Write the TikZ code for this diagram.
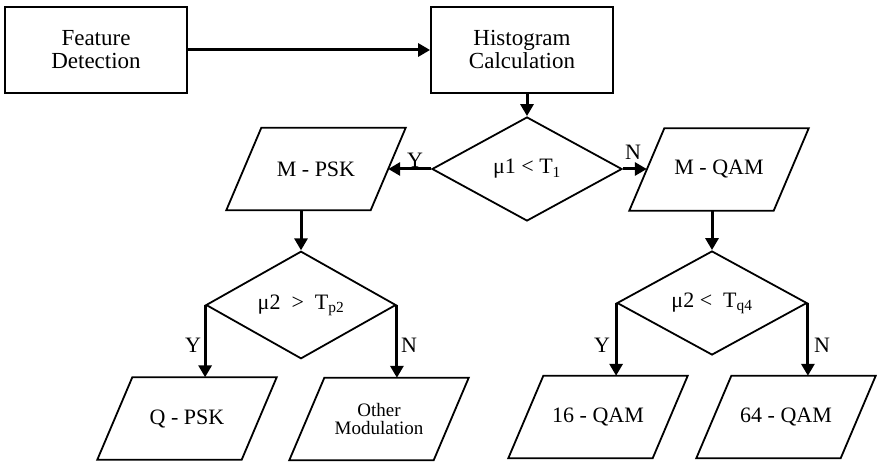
\documentclass[tikz,border=0pt]{standalone}
\usepackage{fontspec}
\setmainfont{Liberation Serif}
\usetikzlibrary{shapes.geometric,arrows.meta}
\begin{document}
\begin{tikzpicture}[x=1pt,y=-1pt,
  box/.style={draw, line width=1.8pt, minimum width=182pt, minimum height=86pt, inner sep=0pt, align=center, font=\fontsize{23}{23}\selectfont},
  dia/.style={draw, diamond, line width=1.8pt, minimum width=190pt, minimum height=104pt, inner sep=0pt, font=\fontsize{22}{24}\selectfont},
  para/.style={minimum width=144pt, minimum height=82pt, inner sep=0pt, align=center, font=\fontsize{22}{24}\selectfont},
  paraline/.style={line width=1.8pt},
  arr/.style={line width=3pt, -{Triangle[length=12pt,width=13pt]}},
  lab/.style={font=\fontsize{22}{24}\selectfont, inner sep=0pt},
]
\useasboundingbox (0,0) rectangle (877,462);
\node[box] (fd) at (96,50) {Feature\\Detection};
\node[box] (hc) at (522,50) {Histogram\\Calculation};
\node[dia] (d1) at (527,169) {μ1 < T\textsubscript{1}};
\node[para] (mpsk) at (316,169) {M - PSK};
\node[para] (mqam) at (719,169.5) {M - QAM};
\node[dia] (d2) at (301,305) {\raisebox{-5pt}{μ2 \ > \ T\textsubscript{p2}}};
\node[dia] (d3) at (712,303) {\raisebox{-5pt}{μ2 < \ T\textsubscript{q4}}};
\node[para] (qpsk) at (187,418.5) {Q - PSK};
\node[para,font=\fontsize{19}{18}\selectfont] (oth) at (379,419) {Other\\Modulation};
\node[para] (q16) at (598,417) {16 - QAM};
\node[para] (q64) at (786,417) {64 - QAM};
\foreach \n in {mpsk,mqam,qpsk,oth,q16,q64}
  \draw[paraline] ([xshift=17.5pt]\n.north west) -- ([xshift=17.5pt]\n.north east) -- ([xshift=-17.5pt]\n.south east) -- ([xshift=-17.5pt]\n.south west) -- cycle;
\draw[arr] (fd) -- (hc);
\draw[arr] (d1.north |- hc.south) -- (d1.north);
\draw[arr] (d1.west) -- (mpsk.east);
\draw[arr] (d1.east) -- (d1.east -| mqam.west);
\draw[arr] (mpsk.south -| d2.north) -- (d2.north);
\draw[arr] (mqam.south -| d3.north) -- (d3.north);
\draw[arr] (d2.west) -- (d2.west |- qpsk.north);
\draw[arr] (d2.east) -- (d2.east |- oth.north);
\draw[arr] (d3.west) -- (d3.west |- q16.north);
\draw[arr] (d3.east) -- (d3.east |- q64.north);
\node[lab] (y1) at (415,160) {Y};
\node[lab] (n1) at (633,152) {N};
\node[lab] (y2) at (193,345) {Y};
\node[lab] (n2) at (409,345) {N};
\node[lab] (y3) at (602,345) {Y};
\node[lab] (n3) at (822,345) {N};
\end{tikzpicture}
\end{document}
